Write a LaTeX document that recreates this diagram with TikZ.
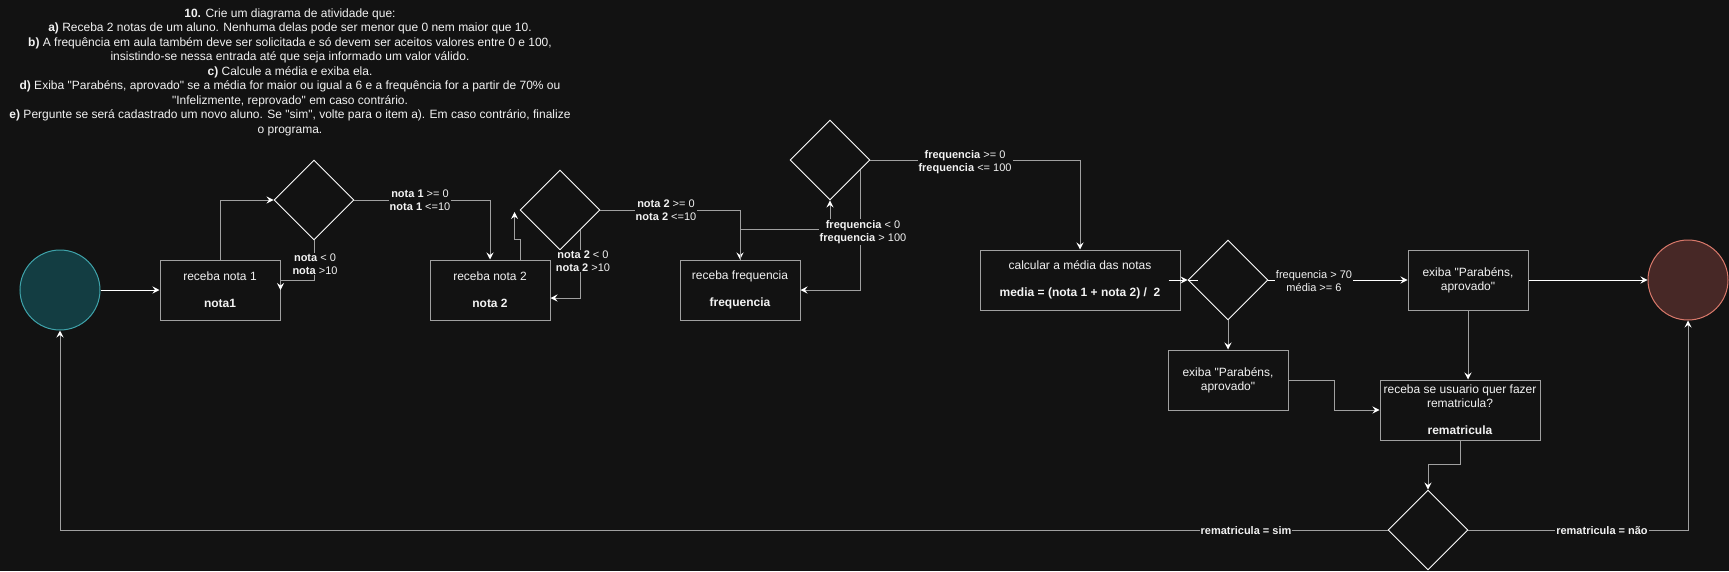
\documentclass[tikz,border=0pt]{standalone}
\usepackage{fontspec}
\setmainfont{Liberation Sans}[Ligatures=TeXOff]
\usetikzlibrary{shapes.geometric,arrows.meta,calc}
\definecolor{bg}{HTML}{121212}
\definecolor{ln}{HTML}{A0A0A0}
\definecolor{startfill}{HTML}{133D42}
\definecolor{startdraw}{HTML}{3FA3AA}
\definecolor{endfill}{HTML}{472826}
\definecolor{enddraw}{HTML}{D9796B}
\definecolor{txt}{HTML}{F2F2F2}
\begin{document}
\begin{tikzpicture}[x=1pt,y=-1pt,
  box/.style={draw=ln, line width=1pt, rectangle, minimum width=120pt, minimum height=60pt, inner sep=0pt, text=txt, align=center, font=\fontsize{12}{14}\selectfont},
  dec/.style={draw=white, line width=0.9pt, diamond, minimum width=80pt, minimum height=80pt, inner sep=0pt},
  conn/.style={draw=ln, line width=1pt, -{Stealth[length=7pt,width=7pt,inset=2.5pt,color=white]}},
  wconn/.style={conn, draw=white},
  lbl/.style={fill=bg, text=txt, inner sep=1pt, align=center, font=\fontsize{11}{13}\selectfont},
  ttl/.style={text=txt, align=center, inner sep=0pt, font=\fontsize{12}{14.5}\selectfont},
]
\fill[bg] (0,0) rectangle (1729,571);
\useasboundingbox (0,0) rectangle (1729,571);

\node[ttl] (title) at (290,72) {\textbf{10.} Crie um diagrama de atividade que:\\
\textbf{a)} Receba 2 notas de um aluno. Nenhuma delas pode ser menor que 0 nem maior que 10.\\
\textbf{b)} A frequência em aula também deve ser solicitada e só devem ser aceitos valores entre 0 e 100,\\
insistindo-se nessa entrada até que seja informado um valor válido.\\
\textbf{c)} Calcule a média e exiba ela.\\
\textbf{d)} Exiba "Parabéns, aprovado" se a média for maior ou igual a 6 e a frequência for a partir de 70\% ou\\
"Infelizmente, reprovado" em caso contrário.\\
\textbf{e)} Pergunte se será cadastrado um novo aluno. Se "sim", volte para o item a). Em caso contrário, finalize\\
o programa.};

% nodes
\node[circle, minimum size=80pt, inner sep=0pt, fill=startfill, draw=startdraw, line width=1pt] (start) at (60,290) {};
\node[box] (b1) at (220,290) {receba nota 1\\[13pt]\textbf{nota1}};
\node[dec] (d1) at (314,200) {};
\node[box] (b2) at (490,290) {receba nota 2\\[13pt]\textbf{nota 2}};
\node[dec] (d2) at (560,210) {};
\node[box] (b3) at (740,290) {receba frequencia\\[13pt]\textbf{frequencia}};
\node[dec] (d3) at (830,160) {};
\node[box, minimum width=200pt] (calc) at (1080,280) {calcular a média das notas\\[13pt]\textbf{media = (nota 1 + nota 2) /\ \ 2}};
\node[dec] (d4) at (1228,280) {};
\node[box] (ex1) at (1468,280) {exiba "Parabéns,\\aprovado"};
\node[circle, minimum size=80pt, inner sep=0pt, fill=endfill, draw=enddraw, line width=1pt] (endc) at (1688,280) {};
\node[box] (ex2) at (1228,380) {exiba "Parabéns,\\aprovado"};
\node[box, minimum width=160pt] (remat) at (1460,410) {receba se usuario quer fazer\\rematricula?\\[13pt]\textbf{rematricula}};
\node[dec] (d5) at (1428,530) {};

% connectors
\draw[wconn] (start.east) -- (b1.west);
\draw[conn] (b1.north) |- (d1.west);
\draw[conn] (d1.south) -- (d1.south |- 0,280) -| (b1.east);
\draw[conn] (d1.east) -| (b2.north);
\draw[conn] ([xshift=30pt]b2.north) -- ++(0,-20) -| ([xshift=-5pt,yshift=-2pt]d2.west);
\draw[conn] (d2.south east) |- ([yshift=-8pt]b2.east);
\draw[conn] (d2.east) -| (b3.north);
\draw[conn] (b3.north) -- ++(0,-30) -| (d3.south);
\coordinate (d3r) at ($(d3.east)!0.25!(d3.south)$);
\draw[conn] (d3r) |- (b3.east);
\draw[conn] (d3.east) -| (calc.north);
\draw[wconn] ([xshift=-12pt]calc.east) -- (d4.west);
\draw[white, line width=1pt] (d4.west) -- ([xshift=10pt]d4.west);
\draw[wconn] (d4.east) -- (ex1.west);
\draw[wconn] (ex1.east) -- (endc.west);
\draw[conn] (d4.south) -- (ex2.north);
\draw[conn] (ex2.east) -- ++(46,0) |- (remat.west);
\draw[conn] (ex1.south) -- (ex1.south |- remat.north);
\draw[conn] (remat.south) -- ++(0,24) -| (d5.north);
\draw[conn] (d5.west) -| (start.south);
\draw[conn] (d5.east) -| (endc.south);

% labels
\node[lbl] (l1) at (315,264) {\textbf{nota} < 0\\\textbf{nota} >10};
\node[lbl] (l2) at (420,200) {\textbf{nota 1} >= 0\\\textbf{nota 1} <=10};
\node[lbl] (l3) at (583,261) {\textbf{nota 2} < 0\\\textbf{nota 2} >10};
\node[lbl] (l4) at (666,210) {\textbf{nota 2} >= 0\\\textbf{nota 2} <=10};
\node[lbl] (l5) at (863,232) {\textbf{frequencia} < 0\\\textbf{frequencia} > 100};
\node[lbl] (l6) at (965,162) {\textbf{frequencia} >= 0\\\textbf{frequencia} <= 100};
\node[lbl] (l7) at (1314,281) {frequencia > 70\\média >= 6};
\node[lbl] (l8) at (1246,531) {\textbf{rematricula = sim}};
\node[lbl] (l9) at (1602,531) {\textbf{rematricula = não}};
\end{tikzpicture}
\end{document}
